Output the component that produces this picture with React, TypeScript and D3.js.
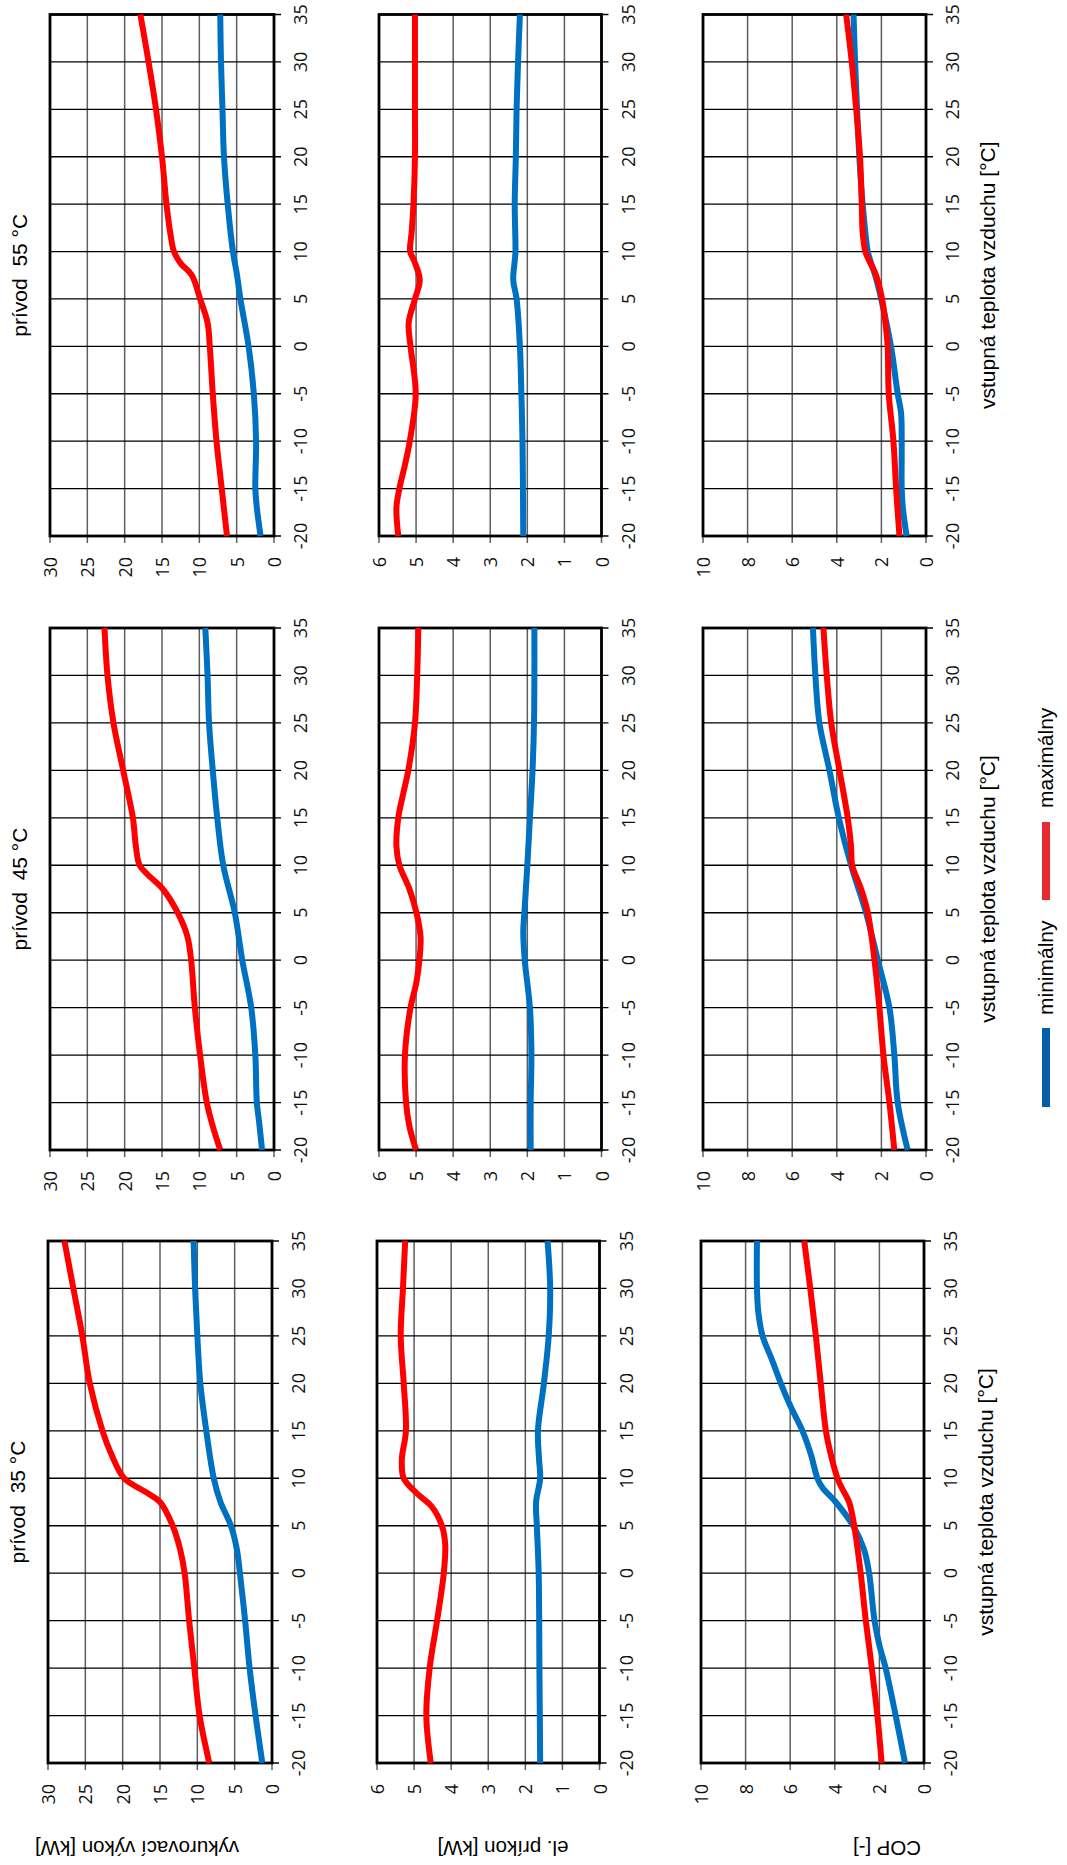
import React from 'react';
import * as d3 from 'd3';

type Pt = [number, number];

// temperature axis (vstupná teplota vzduchu)
const tempTicks = [-20, -15, -10, -5, 0, 5, 10, 15, 20, 25, 30, 35];
const supplyTitles = ['prívod  55 °C', 'prívod  45 °C', 'prívod  35 °C'];
const quantityLabels = ['vykurovací výkon [kW]', 'el. príkon [kW]', 'COP [-]'];
const valueMax = [30, 6, 10];
const valueStep = [5, 1, 2];
const seriesNames = ['minimálny', 'maximálny'];
const xAxisTitle = 'vstupná teplota vzduchu [°C]';

// prívod 55 °C
const vykon55Min: Pt[] = [[-20, 1.8], [-17, 2.3], [-15, 2.5], [-10, 2.4], [-5, 2.7], [0, 3.4], [5, 4.5], [7.5, 4.95], [10, 5.5], [15, 6.2], [20, 6.7], [25, 6.9], [30, 7.1], [35, 7.2]];
const vykon55Max: Pt[] = [[-20, 6.3], [-15, 7.0], [-10, 7.7], [-5, 8.2], [0, 8.6], [2.5, 8.9], [5, 9.9], [7.5, 11.0], [8.75, 12.5], [10, 13.4], [11.5, 13.8], [15, 14.4], [20, 15.0], [25, 15.8], [30, 16.8], [35, 17.9]];
const prikon55Min: Pt[] = [[-20, 2.11], [-10, 2.13], [-5, 2.16], [0, 2.2], [5, 2.29], [7, 2.38], [9, 2.34], [10, 2.32], [15, 2.34], [20, 2.31], [25, 2.29], [30, 2.25], [35, 2.2]];
const prikon55Max: Pt[] = [[-20, 5.48], [-17, 5.53], [-15, 5.45], [-12.5, 5.3], [-10, 5.17], [-5, 5.01], [0, 5.15], [2.5, 5.2], [5, 5.03], [7, 4.9], [9, 5.05], [10, 5.16], [12, 5.12], [15, 5.07], [20, 5.03], [25, 5.03], [30, 5.03], [35, 5.03]];
const cop55Min: Pt[] = [[-20, 0.87], [-17, 1.04], [-15, 1.09], [-10, 1.09], [-7, 1.12], [-5, 1.27], [0, 1.57], [5, 2.01], [7.5, 2.28], [9, 2.49], [10, 2.61], [15, 2.84], [20, 2.99], [25, 3.09], [30, 3.18], [35, 3.25]];
const cop55Max: Pt[] = [[-20, 1.19], [-15, 1.34], [-10, 1.46], [-5, 1.67], [0, 1.72], [2.5, 1.82], [5, 1.97], [7.5, 2.24], [9, 2.54], [10, 2.72], [12, 2.84], [15, 2.88], [20, 2.96], [25, 3.13], [30, 3.33], [35, 3.58]];

// prívod 45 °C
const vykon45Min: Pt[] = [[-20, 1.6], [-17, 2.0], [-15, 2.3], [-10, 2.5], [-5, 3.05], [0, 4.25], [5, 5.25], [10, 6.8], [15, 7.6], [20, 8.2], [25, 8.7], [30, 8.9], [35, 9.2]];
const vykon45Max: Pt[] = [[-20, 7.2], [-17.5, 8.2], [-15, 9.0], [-10, 9.9], [-5, 10.6], [0, 11.1], [2.5, 11.6], [5, 12.9], [7.5, 14.9], [9, 16.9], [10, 18.0], [12, 18.5], [15, 18.9], [20, 20.2], [25, 21.5], [30, 22.3], [35, 22.7]];
const prikon45Min: Pt[] = [[-20, 1.91], [-15, 1.91], [-10, 1.89], [-5, 1.93], [0, 2.07], [3, 2.11], [5, 2.08], [10, 2.0], [15, 1.93], [20, 1.86], [25, 1.82], [30, 1.81], [35, 1.81]];
const prikon45Max: Pt[] = [[-20, 5.0], [-17.5, 5.18], [-15, 5.27], [-10, 5.3], [-5, 5.15], [-2.5, 5.0], [0, 4.91], [2.5, 4.88], [5, 4.99], [7.5, 5.18], [10, 5.45], [12, 5.53], [15, 5.48], [17.5, 5.35], [20, 5.21], [25, 5.03], [30, 4.97], [35, 4.94]];
const cop45Min: Pt[] = [[-20, 0.82], [-15, 1.27], [-10, 1.42], [-5, 1.64], [0, 2.16], [5, 2.69], [10, 3.36], [15, 3.91], [20, 4.33], [25, 4.78], [30, 4.96], [35, 5.07]];
const cop45Max: Pt[] = [[-20, 1.42], [-15, 1.64], [-10, 1.91], [-5, 2.09], [0, 2.31], [5, 2.61], [7.5, 2.91], [10, 3.31], [12, 3.36], [15, 3.51], [20, 3.88], [25, 4.25], [30, 4.45], [35, 4.6]];

// prívod 35 °C
const vykon35Min: Pt[] = [[-20, 1.3], [-15, 2.2], [-10, 3.0], [-5, 3.6], [0, 4.3], [2.5, 4.7], [5, 5.5], [7.5, 6.9], [10, 7.8], [15, 8.8], [20, 9.6], [25, 10.0], [30, 10.3], [35, 10.5]];
const vykon35Max: Pt[] = [[-20, 8.4], [-15, 9.7], [-10, 10.4], [-5, 11.1], [0, 11.7], [2.5, 12.3], [5, 13.3], [7.5, 15.0], [8.5, 16.8], [10, 19.8], [12.5, 21.5], [15, 22.7], [20, 24.4], [25, 25.4], [30, 26.6], [35, 27.8]];
const prikon35Min: Pt[] = [[-20, 1.6], [-10, 1.62], [0, 1.64], [5, 1.69], [7.5, 1.71], [10, 1.6], [12, 1.63], [15, 1.66], [20, 1.5], [25, 1.37], [30, 1.33], [35, 1.4]];
const prikon35Max: Pt[] = [[-20, 4.55], [-15, 4.67], [-10, 4.58], [-5, 4.38], [0, 4.2], [3, 4.16], [5, 4.25], [7, 4.52], [8.5, 4.95], [10, 5.28], [12, 5.33], [15, 5.22], [20, 5.28], [25, 5.36], [30, 5.3], [35, 5.24]];
const cop35Min: Pt[] = [[-20, 0.85], [-15, 1.27], [-10, 1.72], [-7.5, 2.01], [-5, 2.22], [0, 2.46], [2.5, 2.69], [5, 3.18], [7.5, 3.96], [9, 4.55], [10, 4.78], [12.5, 5.07], [15, 5.45], [17.5, 5.97], [20, 6.42], [22.5, 6.82], [25, 7.24], [27.5, 7.43], [30, 7.49], [35, 7.49]];
const cop35Max: Pt[] = [[-20, 1.9], [-15, 2.09], [-10, 2.34], [-5, 2.61], [0, 2.84], [5, 3.13], [7.5, 3.36], [9, 3.69], [10, 3.88], [12.5, 4.18], [15, 4.4], [20, 4.63], [25, 4.85], [30, 5.1], [35, 5.37]];

const panelData: Pt[][][][] = [
  [[vykon55Min, vykon55Max], [prikon55Min, prikon55Max], [cop55Min, cop55Max]],
  [[vykon45Min, vykon45Max], [prikon45Min, prikon45Max], [cop45Min, cop45Max]],
  [[vykon35Min, vykon35Max], [prikon35Min, prikon35Max], [cop35Min, cop35Max]],
];

// layout (page is rotated: temperature runs upward, values run leftward)
const W = 1067;
const H = 1865;
const colBox = [[50, 274], [379, 601.5], [703, 926]];
const rowBox = [[14.5, 536], [628, 1150], [1241, 1763]];
const rowDx = [0, 0, -2];
const lineColors = ['#0070C0', '#FF0000'];
const legendColors = ['#065DA8', '#E52A32'];
const tickFont = '"Open Sans", "Noto Sans", sans-serif';
const titleFont = '"Liberation Sans", Arial, sans-serif';
const labelCenters = [137, 503, 887];

function Panel({ ri, ci }: { ri: number; ci: number }) {
  const l = colBox[ci][0] + rowDx[ri];
  const r = colBox[ci][1] + rowDx[ri];
  const [t, b] = rowBox[ri];
  const vmax = valueMax[ci];
  const x = d3.scaleLinear().domain([0, vmax]).range([r, l]);
  const y = d3.scaleLinear().domain([-20, 35]).range([b, t]);
  const vTicks = d3.range(0, vmax + 1e-9, valueStep[ci]);
  const line = d3
    .line<Pt>()
    .x((d) => x(d[1]))
    .y((d) => y(d[0]))
    .curve(d3.curveCatmullRom.alpha(0.5));
  const series = panelData[ri][ci];
  return (
    <g>
      {vTicks.map((v) => (
        <line key={'v' + v} x1={x(v)} x2={x(v)} y1={t} y2={b + 7} stroke="#5e5e5e" strokeWidth={1.5} />
      ))}
      {tempTicks.map((tt) => (
        <line key={'t' + tt} x1={l} x2={r + 7} y1={y(tt)} y2={y(tt)} stroke="#000" strokeWidth={1.3} />
      ))}
      <rect x={l} y={t} width={r - l} height={b - t} fill="none" stroke="#000" strokeWidth={2.8} />
      {series.map((s, si) => (
        <path key={'s' + si} d={line(s) || ''} fill="none" stroke={lineColors[si]} strokeWidth={6} strokeLinecap="butt" strokeLinejoin="round" />
      ))}
      {tempTicks.map((tt) => (
        <text
          key={'tl' + tt}
          transform={`translate(${r + 26},${y(tt)}) rotate(-90)`}
          textAnchor="middle"
          dominantBaseline="central"
          fontFamily={tickFont}
          fontSize={18}
          fill="#111"
        >
          {tt}
        </text>
      ))}
      {vTicks.map((v) => (
        <text
          key={'vl' + v}
          transform={`translate(${x(v)},${b + 21}) rotate(-90)`}
          textAnchor="end"
          dominantBaseline="central"
          fontFamily={tickFont}
          fontSize={18}
          fill="#111"
        >
          {v}
        </text>
      ))}
    </g>
  );
}

export default function App() {
  const rows = [0, 1, 2];
  const cols = [0, 1, 2];
  return (
    <svg
      width={W}
      height={H}
      viewBox={`0 0 ${W} ${H}`}
      style={{ position: 'absolute', left: 0, top: 0, background: '#fff' }}
    >
      <rect x={0} y={0} width={W} height={H} fill="#fff" />
      {rows.map((ri) => cols.map((ci) => <Panel key={ri + '-' + ci} ri={ri} ci={ci} />))}
      {rows.map((ri) => {
        const cy = (rowBox[ri][0] + rowBox[ri][1]) / 2;
        return (
          <g key={'rt' + ri}>
            <text
              transform={`translate(${27 + rowDx[ri]},${cy}) rotate(-90)`}
              textAnchor="middle"
              fontFamily={titleFont}
              fontSize={21}
              style={{ whiteSpace: 'pre' }}
              fill="#000"
            >
              {supplyTitles[ri]}
            </text>
            <text
              transform={`translate(${995 + rowDx[ri]},${cy}) rotate(-90)`}
              textAnchor="middle"
              fontFamily={titleFont}
              fontSize={21}
              fill="#000"
            >
              {xAxisTitle}
            </text>
          </g>
        );
      })}
      {cols.map((ci) => (
        <text
          key={'ql' + ci}
          transform={`translate(${labelCenters[ci]},1841) rotate(180)`}
          textAnchor="middle"
          fontFamily={titleFont}
          fontSize={20.5}
          fill="#000"
        >
          {quantityLabels[ci]}
        </text>
      ))}
      {/* legend */}
      <line x1={1046} x2={1046} y1={1028} y2={1107} stroke={legendColors[0]} strokeWidth={8} />
      <text
        transform={`translate(1053,1015) rotate(-90)`}
        textAnchor="start"
        fontFamily={titleFont}
        fontSize={21}
        fill="#000"
      >
        {seriesNames[0]}
      </text>
      <line x1={1046} x2={1046} y1={822} y2={900} stroke={legendColors[1]} strokeWidth={8} />
      <text
        transform={`translate(1053,808) rotate(-90)`}
        textAnchor="start"
        fontFamily={titleFont}
        fontSize={21}
        fill="#000"
      >
        {seriesNames[1]}
      </text>
    </svg>
  );
}
